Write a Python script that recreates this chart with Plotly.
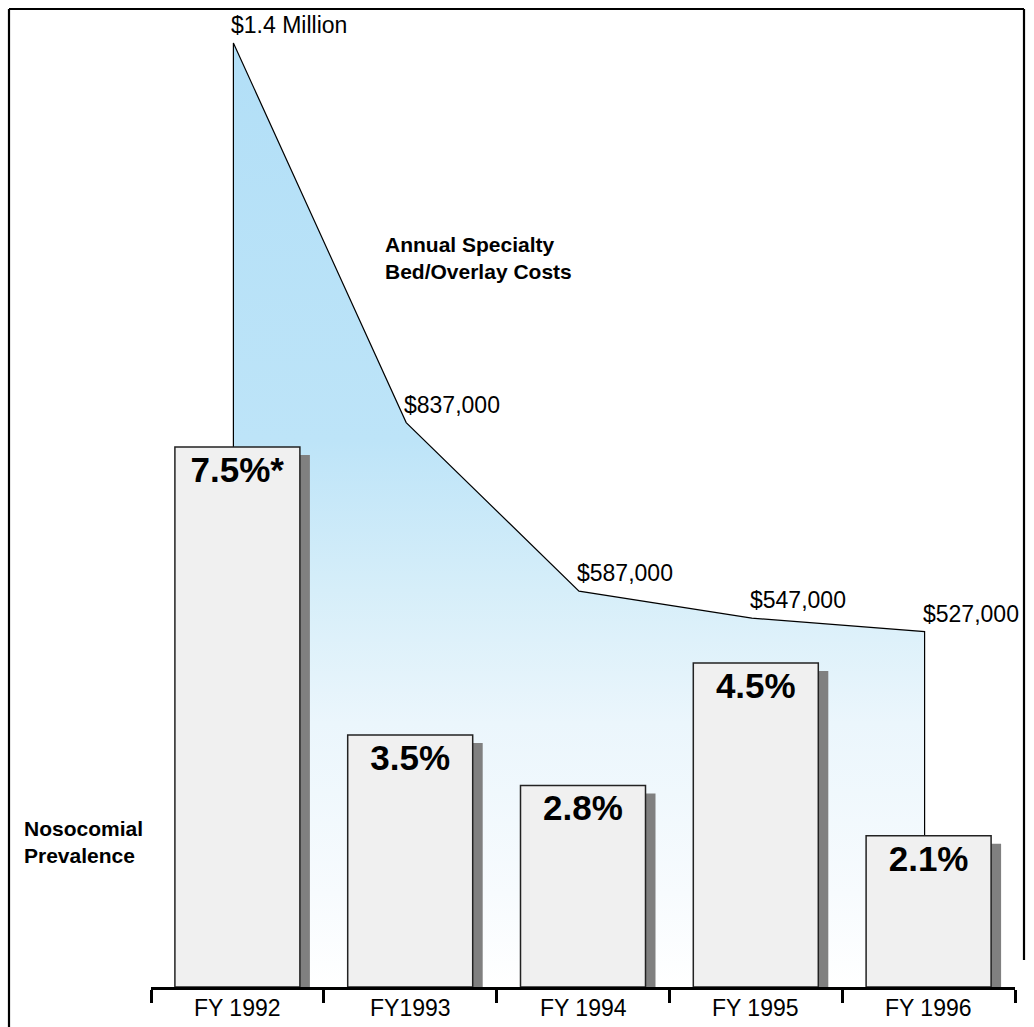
import plotly.graph_objects as go

# Fiscal years, nosocomial prevalence (%) and annual specialty bed/overlay costs ($)
years = ["FY 1992", "FY1993", "FY 1994", "FY 1995", "FY 1996"]
prevalence = [7.5, 3.5, 2.8, 4.5, 2.1]
prevalence_marks = ["*", "", "", "", ""]
costs = [1400000, 837000, 587000, 547000, 527000]

FONT = "Liberation Sans, Arial, sans-serif"

# Canvas geometry (pixels)
W, H = 1034, 1027
ML, MR, MT, MB = 151, 19, 30, 40
PLOT_W = W - ML - MR
PLOT_H = H - MT - MB
CAT_PX = PLOT_W / len(years)

# Vertical scales: 72 px per percentage point, ~674 px per $1M
PCT_PX = 72.0
COST_PX = 944.0 / 1400000
pct_top = PLOT_H / PCT_PX
cost_top = PLOT_H / COST_PX

bar_w = 125 / CAT_PX
shadow_dx = 10 / CAT_PX
shadow_dy = 8 / PCT_PX
area_dx = 4 / CAT_PX


def px_x(p):
    return (p - ML) / PLOT_W


def px_y(p):
    return (H - MB - p) / PLOT_H


def money(v):
    if v >= 1000000:
        return f"${v / 1000000:.1f} Million"
    return f"${v:,.0f}"


fig = go.Figure()

# Cost area: vertical edges down to zero at both ends, gradient fill
area_x = [years[0]] + years + [years[-1]]
area_y = [0] + costs + [0]
fig.add_trace(go.Scatter(
    x=area_x, y=area_y, xaxis="x", yaxis="y",
    mode="lines", fill="toself",
    line=dict(color="black", width=1.2),
    fillgradient=dict(
        type="vertical",
        colorscale=[
            [0.0, "#ffffff"],
            [0.1, "#f7fbfe"],
            [0.28, "#ebf6fc"],
            [0.42, "#d6eef9"],
            [0.58, "#bde4f8"],
            [1.0, "#b2dff7"],
        ],
    ),
    hoverinfo="skip", showlegend=False,
))

# Drop shadows behind the prevalence bars
fig.add_trace(go.Bar(
    x=years, y=prevalence, base=-shadow_dy, xaxis="x2", yaxis="y2",
    width=bar_w, offset=-bar_w / 2 + shadow_dx,
    marker=dict(color="#808080", line=dict(width=0)),
    hoverinfo="skip", showlegend=False,
))

# Prevalence bars with their values printed at the top
fig.add_trace(go.Bar(
    x=years, y=prevalence, xaxis="x2", yaxis="y2",
    width=bar_w, offset=-bar_w / 2,
    marker=dict(color="#f0f0f0", line=dict(color="#222222", width=1.5)),
    text=[f"{v}%{m}" for v, m in zip(prevalence, prevalence_marks)],
    textposition="inside", insidetextanchor="end", textangle=0,
    constraintext="none",
    textfont=dict(family=FONT, size=35, color="black", weight="bold"),
    hoverinfo="skip", showlegend=False,
))

annotations = []
# Cost values above each point of the area outline
for yr, c in zip(years, costs):
    annotations.append(dict(
        x=yr, y=c, xref="x", yref="y", text=money(c),
        showarrow=False, xanchor="left", yanchor="bottom",
        xshift=-4, yshift=3,
        font=dict(family=FONT, size=23, color="black"),
    ))

# Category labels under the axis
for yr in years:
    annotations.append(dict(
        x=yr, y=0, xref="x2", yref="paper", text=yr,
        showarrow=False, xanchor="center", yanchor="middle",
        yshift=-21,
        font=dict(family=FONT, size=23, color="black"),
    ))

annotations.append(dict(
    x=px_x(383), y=px_y(258), xref="paper", yref="paper",
    text="Annual Specialty<br>Bed/Overlay Costs", align="left",
    showarrow=False, xanchor="left", yanchor="middle",
    font=dict(family=FONT, size=21, color="black", weight="bold"),
))
annotations.append(dict(
    x=px_x(22), y=px_y(842), xref="paper", yref="paper",
    text="Nosocomial<br>Prevalence", align="left",
    showarrow=False, xanchor="left", yanchor="middle",
    font=dict(family=FONT, size=21, color="black", weight="bold"),
))

# Frame around the chart
frame = dict(type="line", xref="paper", yref="paper",
             line=dict(color="black", width=2.2), layer="above")
shapes = [
    dict(frame, x0=px_x(9), x1=px_x(1024), y0=px_y(9), y1=px_y(9)),
    dict(frame, x0=px_x(9), x1=px_x(9), y0=px_y(9), y1=px_y(1027)),
    dict(frame, x0=px_x(1024), x1=px_x(1024), y0=px_y(9), y1=px_y(960)),
]

fig.update_layout(
    template="none",
    width=W, height=H,
    margin=dict(l=ML, r=MR, t=MT, b=MB, autoexpand=False),
    paper_bgcolor="white", plot_bgcolor="white",
    barmode="overlay",
    showlegend=False,
    font=dict(family=FONT, color="black"),
    xaxis=dict(type="category", range=[-0.5 + area_dx, len(years) - 0.5 + area_dx],
               visible=False, fixedrange=True, automargin=False),
    yaxis=dict(range=[0, cost_top], visible=False, fixedrange=True,
               automargin=False),
    xaxis2=dict(type="category", overlaying="x", anchor="y2",
                range=[-0.5, len(years) - 0.5],
                showline=True, linecolor="black", linewidth=2.5,
                ticks="outside", tickson="boundaries", ticklen=13,
                tickwidth=2.5, tickcolor="black", showticklabels=False,
                showgrid=False, zeroline=False, automargin=False,
                fixedrange=True),
    yaxis2=dict(overlaying="y", range=[0, pct_top], visible=False,
                fixedrange=True, automargin=False),
    annotations=annotations,
    shapes=shapes,
)

fig.write_html("out.html")
